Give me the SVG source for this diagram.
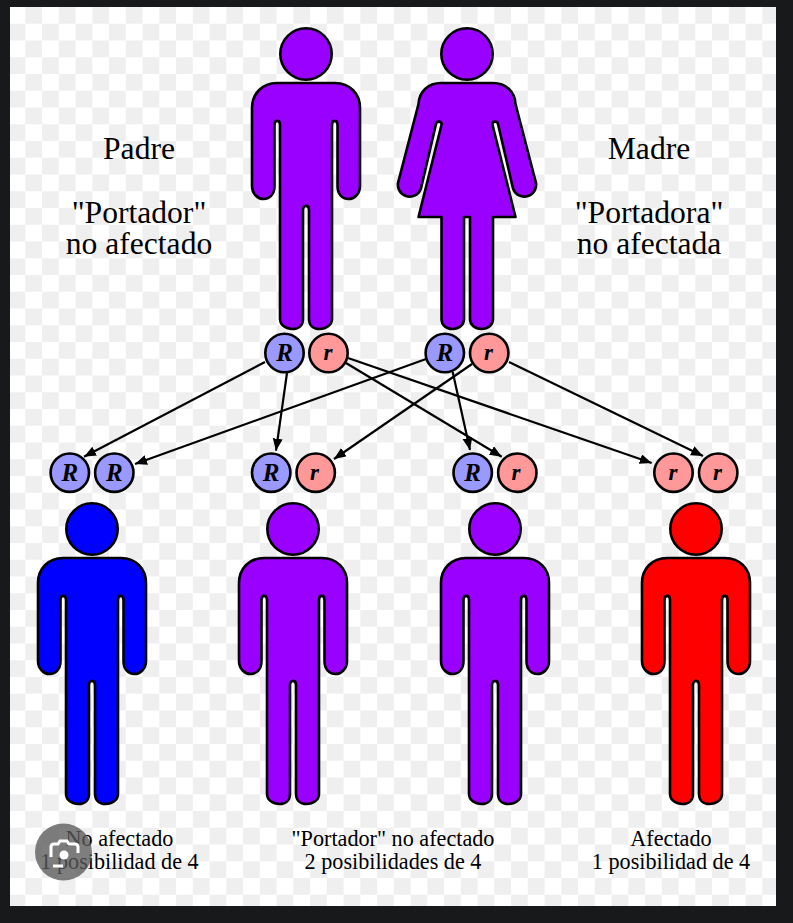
<svg xmlns="http://www.w3.org/2000/svg" xmlns:xlink="http://www.w3.org/1999/xlink" width="793" height="923" viewBox="0 0 793 923">
<style>
.fig{stroke:#000;stroke-width:2.6;stroke-linejoin:round}
.R{fill:#9999ff}
.r{fill:#ff9999}
.al circle{stroke:#000;stroke-width:2.6}
.al text{font-family:"Liberation Serif",serif;font-style:italic;font-weight:bold;text-anchor:middle;fill:#000}
.al .tR{font-size:25px}
.al .tr{font-size:23px}
.big{font-family:"Liberation Serif",serif;font-size:31.6px;text-anchor:middle;fill:#000}
.small{font-family:"Liberation Serif",serif;font-size:22.2px;text-anchor:middle;fill:#000}
.con{stroke:#000;stroke-width:2.2;fill:none;marker-end:url(#ah)}
</style>
<defs>
<pattern id="chk" width="33.5" height="33.5" patternUnits="userSpaceOnUse" x="-8.2" y="7">
<rect width="33.5" height="33.5" fill="#fff"/>
<rect width="16.75" height="16.75" fill="#efefef"/>
<rect x="16.75" y="16.75" width="16.75" height="16.75" fill="#efefef"/>
</pattern>
<marker id="ah" markerUnits="userSpaceOnUse" markerWidth="14" markerHeight="12" refX="12" refY="5" orient="auto">
<path d="M0 0L12 5L0 10Z" fill="#000"/>
</marker>
<g id="man">
<circle cx="0" cy="54" r="25.7"/>
<path d="M-29 83H29C44 83 54 94 54 108V186C54 194 48 199 42.500 199C36 199 31.500 194 31.500 186V125C31.500 119.500 26 119.500 26 125V319C26 325 20 329 13.500 329C7 329 3 325 3 319V210C3 204.500 -3 204.500 -3 210V319C-3 325 -7 329 -13.500 329C-20 329 -26 325 -26 319V125C-26 119.500 -31.500 119.500 -31.500 125V186C-31.500 194 -36 199 -42.500 199C-48 199 -54 194 -54 186V108C-54 94 -44 83 -29 83Z"/>
</g>
</defs>
<rect width="793" height="923" fill="#18191b"/>
<rect x="10" y="7" width="766" height="899" fill="url(#chk)"/>

<g id="father"><use href="#man" xlink:href="#man" x="306" y="0" class="fig" fill="#9900ff"/></g>
<g id="mother" class="fig" fill="#9900ff">
<circle cx="467" cy="54" r="25.700"/>
<path d="M441 83H493C506 83 515 92 515.500 104L535.500 181A11.800 11.800 0 0 1 513 188.500L498 124A2.900 2.900 0 0 0 492.300 124L515.500 217H493V319C493 325 488 329 481.500 329C475 329 470 325 470 319V217H464V319C464 325 459 329 452.500 329C446 329 441.500 325 441.500 319V217H418.500L441.700 124A2.900 2.900 0 0 0 436 124L421 188.500A11.800 11.800 0 0 1 398.500 181L418.500 104C419 92 428 83 441 83Z"/>
</g>

<g id="connectors">
<line class="con" x1="265" y1="362" x2="84" y2="456.700"/>
<line class="con" x1="426" y1="359" x2="135" y2="464"/>
<line class="con" x1="287" y1="373" x2="276" y2="450.700"/>
<line class="con" x1="472" y1="364" x2="334" y2="459"/>
<line class="con" x1="452.700" y1="372" x2="470" y2="450"/>
<line class="con" x1="346" y1="363" x2="501.700" y2="456.700"/>
<line class="con" x1="348" y1="358" x2="651.700" y2="463"/>
<line class="con" x1="509" y1="362" x2="703" y2="456"/>
</g>

<g id="allele-f1" class="al"><circle class="R" cx="284.500" cy="353" r="19.200"/><text class="tR" x="284.500" y="361">R</text></g>
<g id="allele-f2" class="al"><circle class="r" cx="328.500" cy="353" r="19.200"/><text class="tr" x="328" y="359.500">r</text></g>
<g id="allele-m1" class="al"><circle class="R" cx="444.800" cy="353" r="19.200"/><text class="tR" x="444.800" y="361">R</text></g>
<g id="allele-m2" class="al"><circle class="r" cx="489.200" cy="353" r="19.200"/><text class="tr" x="488.500" y="359.500">r</text></g>
<g id="allele-c1a" class="al"><circle class="R" cx="69.800" cy="472.700" r="19.200"/><text class="tR" x="69.800" y="481">R</text></g>
<g id="allele-c1b" class="al"><circle class="R" cx="114.300" cy="472.700" r="19.200"/><text class="tR" x="114.300" y="481">R</text></g>
<g id="allele-c2a" class="al"><circle class="R" cx="271.200" cy="472.700" r="19.200"/><text class="tR" x="271.200" y="481">R</text></g>
<g id="allele-c2b" class="al"><circle class="r" cx="315.700" cy="472.700" r="19.200"/><text class="tr" x="314.500" y="479.500">r</text></g>
<g id="allele-c3a" class="al"><circle class="R" cx="472.700" cy="472.700" r="19.200"/><text class="tR" x="472.700" y="481">R</text></g>
<g id="allele-c3b" class="al"><circle class="r" cx="517.300" cy="472.700" r="19.200"/><text class="tr" x="516" y="479.500">r</text></g>
<g id="allele-c4a" class="al"><circle class="r" cx="673.500" cy="472.700" r="19.200"/><text class="tr" x="673" y="479.500">r</text></g>
<g id="allele-c4b" class="al"><circle class="r" cx="718.200" cy="472.700" r="19.200"/><text class="tr" x="717.500" y="479.500">r</text></g>

<g id="child1"><use href="#man" xlink:href="#man" x="92" y="475" class="fig" fill="#0000ff"/></g>
<g id="child2"><use href="#man" xlink:href="#man" x="293" y="475" class="fig" fill="#9900ff"/></g>
<g id="child3"><use href="#man" xlink:href="#man" x="495" y="475" class="fig" fill="#9900ff"/></g>
<g id="child4"><use href="#man" xlink:href="#man" x="696" y="475" class="fig" fill="#ff0000"/></g>

<g id="label-padre" class="big">
<text x="139" y="159">Padre</text>
<text x="139" y="223">"Portador"</text>
<text x="139" y="254">no afectado</text>
</g>
<g id="label-madre" class="big">
<text x="649" y="159">Madre</text>
<text x="649" y="223">"Portadora"</text>
<text x="649" y="254">no afectada</text>
</g>
<g id="label-c1" class="small">
<text x="119.500" y="846">No afectado</text>
<text x="119.500" y="869">1 posibilidad de 4</text>
</g>
<g id="label-c2" class="small">
<text x="393" y="846">"Portador" no afectado</text>
<text x="393" y="869">2 posibilidades de 4</text>
</g>
<g id="label-c3" class="small">
<text x="671" y="846">Afectado</text>
<text x="671" y="869">1 posibilidad de 4</text>
</g>

<g id="lens-badge">
<circle cx="63.500" cy="852" r="28.500" fill="#5a5a5a" fill-opacity=".78"/>
<path d="M51 857V847C51 845 52.500 844 54 844H58L60 841H67L69 844H75C77 844 78 845 78 847V853" fill="none" stroke="#fff" stroke-width="3"/>
<path d="M53 866H63" fill="none" stroke="#fff" stroke-width="3"/>
<circle cx="64" cy="855" r="4.500" fill="#fff"/>
</g>
</svg>
